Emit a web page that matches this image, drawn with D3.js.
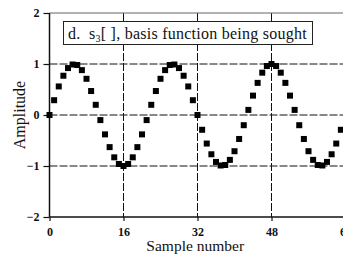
<!DOCTYPE html>
<html>
<head>
<meta charset="utf-8">
<script src="https://cdn.jsdelivr.net/npm/d3@7"></script>
<style>
  body { margin: 0; background: #fff; }
  svg { display: block; }
  text { font-family: "Liberation Serif", "Times New Roman", serif; fill: #111; white-space: pre; }
</style>
</head>
<body>
<svg id="chart"></svg>
<script>
// s3[], one value per sample 0..63
const samples = d3.range(0, 64);
const amplitude = [
  0, 0.29, 0.56, 0.77, 0.92, 0.99, 0.98, 0.88, 0.71, 0.47, 0.20, -0.10, -0.38, -0.63, -0.83, -0.96,
  -1.00, -0.96, -0.83, -0.63, -0.38, -0.10, 0.20, 0.47, 0.71, 0.88, 0.98, 0.99, 0.92, 0.77, 0.56, 0.29,
  0, -0.29, -0.56, -0.77, -0.92, -0.99, -0.98, -0.88, -0.71, -0.47, -0.20, 0.10, 0.38, 0.63, 0.83, 0.96,
  1.00, 0.96, 0.83, 0.63, 0.38, 0.10, -0.20, -0.47, -0.71, -0.88, -0.98, -0.99, -0.92, -0.77, -0.56, -0.29
];
const xTicks = [0, 16, 32, 48, 64];
const yTicks = [-2, -1, 0, 1, 2];
const gridX = [16, 32, 48];
const gridY = [-1, 0, 1];

const W = 343, H = 260;
const margin = { top: 13, left: 49.5 };
const plotW = 296, plotH = 204;

const svg = d3.select('#chart').attr('width', W).attr('height', H);
const g = svg.append('g').attr('transform', `translate(${margin.left},${margin.top})`);

const x = d3.scaleLinear().domain([0, 64]).range([0, plotW]);
const y = d3.scaleLinear().domain([-2, 2]).range([plotH, 0]);

// dashed grid
g.selectAll('.gx').data(gridX).enter().append('line')
  .attr('x1', d => x(d)).attr('x2', d => x(d))
  .attr('y1', 0).attr('y2', plotH)
  .attr('stroke', '#111').attr('stroke-width', 1).attr('stroke-dasharray', '8,2');
g.selectAll('.gy').data(gridY).enter().append('line')
  .attr('x1', 0).attr('x2', plotW)
  .attr('y1', d => y(d)).attr('y2', d => y(d))
  .attr('stroke', '#111').attr('stroke-width', 1).attr('stroke-dasharray', '8,2');

// frame: top is lighter, left/bottom solid black
g.append('line').attr('x1', 0).attr('x2', plotW).attr('y1', 0).attr('y2', 0)
  .attr('stroke', '#666').attr('stroke-width', 1.2);
g.append('line').attr('x1', 0).attr('x2', plotW).attr('y1', plotH).attr('y2', plotH)
  .attr('stroke', '#111').attr('stroke-width', 1.5);
g.append('line').attr('x1', 0).attr('x2', 0).attr('y1', 0).attr('y2', plotH)
  .attr('stroke', '#111').attr('stroke-width', 1.5);

// axes
const yAxis = g.append('g')
  .call(d3.axisLeft(y).tickValues(yTicks).tickSize(6).tickPadding(4).tickFormat(d3.format('d')));
yAxis.select('.domain').remove();
yAxis.selectAll('line').attr('stroke', '#111').attr('stroke-width', 1.2);
yAxis.selectAll('text').style('font-family', '"Liberation Serif", serif')
  .style('font-size', '12px').style('font-weight', 'bold').attr('fill', '#222');

const xAxis = g.append('g').attr('transform', `translate(0,${plotH})`)
  .call(d3.axisBottom(x).tickValues(xTicks).tickSize(4).tickPadding(6));
xAxis.select('.domain').remove();
xAxis.selectAll('line').attr('stroke', '#111').attr('stroke-width', 1.2);
xAxis.selectAll('text').style('font-family', '"Liberation Serif", serif')
  .style('font-size', '12px').style('font-weight', 'bold').attr('fill', '#222');

// data markers
const sz = 6;
g.selectAll('.pt').data(samples).enter().append('rect')
  .attr('x', d => x(d) - sz / 2)
  .attr('y', (d, i) => y(amplitude[i]) - sz / 2)
  .attr('width', sz).attr('height', sz)
  .attr('fill', '#000');

// label box
svg.append('rect').attr('x', 63.5).attr('y', 21.5).attr('width', 249).attr('height', 23)
  .attr('fill', '#fff').attr('stroke', '#222').attr('stroke-width', 1);
const lbl = svg.append('text').attr('x', 68).attr('y', 39)
  .style('font-size', '16px').style('letter-spacing', '0.25px');
lbl.append('tspan').text('d.  s');
lbl.append('tspan').text('3').style('font-size', '10px').attr('dy', 3);
lbl.append('tspan').text('[ ], basis function being sought').attr('dy', -3);

// axis titles
svg.append('text').attr('x', margin.left + x(31.5)).attr('y', 251)
  .attr('text-anchor', 'middle').style('font-size', '15.5px').text('Sample number');
svg.append('text').attr('transform', `translate(25,${margin.top + y(0)}) rotate(-90)`)
  .attr('text-anchor', 'middle').style('font-size', '16px').text('Amplitude');
</script>
</body>
</html>
